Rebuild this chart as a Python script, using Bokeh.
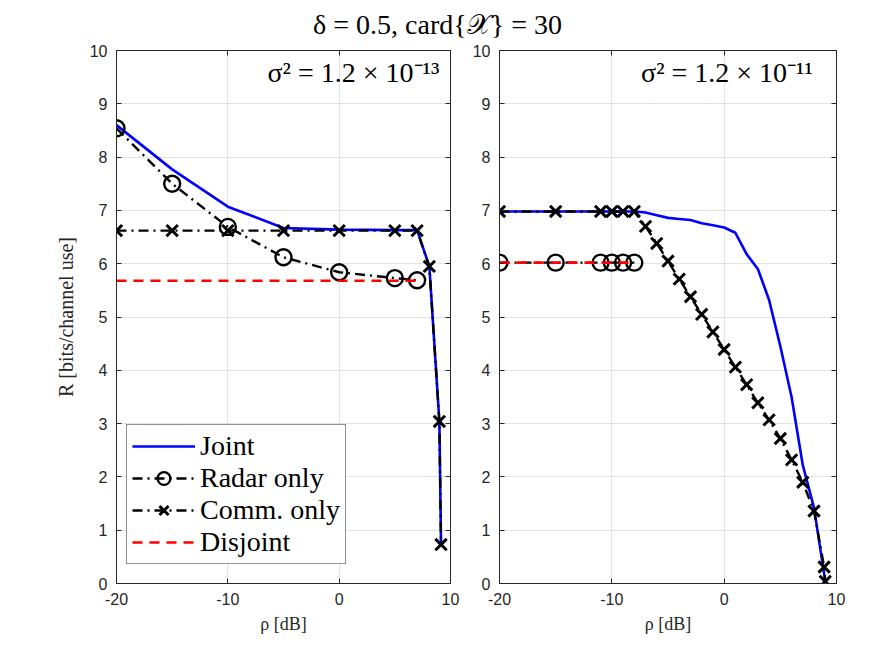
from bokeh.plotting import figure
from bokeh.models import Label, LinearAxis, Legend, LegendItem, FixedTicker, Range1d
from bokeh.layouts import column, row
from bokeh.embed import file_html
from bokeh.resources import INLINE

# ---------------- data ----------------
x_ticks = [-20, -10, 0, 10]
x_tick_labels = {-20: "-20", -10: "-10", 0: "0", 10: "10"}
y_ticks = [0, 1, 2, 3, 4, 5, 6, 7, 8, 9, 10]

# left panel: sigma^2 = 1.2e-13
rho_L_joint = [-20, -15, -10, -5, 0, 5, 7, 8.1, 9.0, 9.15]
R_L_joint = [8.60, 7.77, 7.07, 6.67, 6.64, 6.63, 6.63, 5.95, 3.04, 0.73]
rho_L_radar = [-20, -15, -10, -5, 0, 5, 7]
R_L_radar = [8.54, 7.50, 6.69, 6.12, 5.84, 5.73, 5.69]
rho_L_comm = [-20, -15, -10, -5, 0, 5, 7, 8.1, 9.0, 9.15]
R_L_comm = [6.62, 6.62, 6.62, 6.62, 6.62, 6.62, 6.62, 5.95, 3.04, 0.73]
rho_L_disj = [-20, 7]
R_L_disj = [5.68, 5.68]

# right panel: sigma^2 = 1.2e-11
rho_R_joint = [-20, -15, -11, -10, -9, -8, -7, -6, -5, -4, -3, -2, -1, 0, 1, 2, 3, 4, 5, 6, 7, 8, 9]
R_R_joint = [6.98, 6.98, 6.98, 6.98, 6.98, 6.98, 6.96, 6.91, 6.86, 6.84, 6.82, 6.76, 6.72, 6.68,
             6.58, 6.18, 5.90, 5.32, 4.45, 3.50, 2.22, 1.42, 0.04]
rho_R_radar = [-20, -15, -11, -10, -9, -8]
R_R_radar = [6.02, 6.02, 6.02, 6.02, 6.02, 6.02]
rho_R_comm = [-20, -15, -11, -10, -9, -8, -7, -6, -5, -4, -3, -2, -1, 0, 1, 2, 3, 4, 5, 6, 7, 8, 8.9, 9]
R_R_comm = [6.98, 6.98, 6.98, 6.98, 6.98, 6.98, 6.70, 6.38, 6.05, 5.71, 5.38, 5.05, 4.72, 4.39,
            4.06, 3.73, 3.39, 3.07, 2.72, 2.32, 1.90, 1.36, 0.31, 0.04]
rho_R_disj = [-20, -8]
R_R_disj = [6.02, 6.02]

title_text = "δ = 0.5, card{𝒳} = 30"
ann_L = "σ² = 1.2 × 10⁻¹³"
ann_R = "σ² = 1.2 × 10⁻¹¹"
labels = ["Joint", "Radar only", "Comm. only", "Disjoint"]

SERIF = "Liberation Serif"
SANS = "Liberation Sans"
AX = "#262626"
DASHDOT = "10 5 2 5"


def style_axis(ax, show_labels=True):
    ax.axis_line_color = AX
    ax.major_tick_line_color = AX
    ax.major_tick_in = 5
    ax.major_tick_out = 0
    ax.minor_tick_line_color = None
    ax.major_label_text_font = SANS
    if show_labels:
        ax.major_label_text_color = AX
        ax.major_label_text_font_size = "16px"
        ax.major_label_standoff = 9
    else:
        ax.major_label_text_color = None
        ax.major_label_text_font_size = "1px"
        ax.major_label_standoff = 0


def make_panel(fw, fh, bl, br, ylabel):
    p = figure(frame_width=fw, frame_height=fh, output_backend="svg", toolbar_location=None,
               x_range=Range1d(-20, 10), y_range=Range1d(0, 10),
               min_border_left=bl, min_border_right=br, min_border_top=6, min_border_bottom=62)
    p.outline_line_color = AX
    p.xaxis.ticker = FixedTicker(ticks=x_ticks)
    p.xaxis.major_label_overrides = x_tick_labels
    p.yaxis.ticker = FixedTicker(ticks=y_ticks)
    style_axis(p.xaxis[0])
    style_axis(p.yaxis[0])
    p.xaxis.axis_label = "ρ [dB]"
    p.xaxis.axis_label_text_font = SERIF
    p.xaxis.axis_label_text_font_style = "normal"
    p.xaxis.axis_label_text_font_size = "18px"
    p.xaxis.axis_label_standoff = 6
    p.xaxis.axis_label_text_color = AX
    if ylabel:
        p.yaxis.axis_label = ylabel
        p.yaxis.axis_label_text_font = SERIF
        p.yaxis.axis_label_text_font_style = "normal"
        p.yaxis.axis_label_text_font_size = "20px"
        p.yaxis.axis_label_standoff = 10
        p.yaxis.axis_label_text_color = AX
    ra = LinearAxis(ticker=FixedTicker(ticks=y_ticks))
    style_axis(ra, False)
    p.add_layout(ra, "right")
    ta = LinearAxis(ticker=FixedTicker(ticks=x_ticks))
    style_axis(ta, False)
    p.add_layout(ta, "above")
    p.xgrid.ticker = FixedTicker(ticks=x_ticks)
    p.ygrid.ticker = FixedTicker(ticks=y_ticks)
    p.grid.grid_line_color = "#e3e3e3"
    p.grid.grid_line_width = 1
    return p


def add_series(p, rj, Rj, rr, Rr, rc, Rc, rd, Rd):
    lj = p.line(rj, Rj, line_color="#0000ff", line_width=2.6)
    lr = p.line(rr, Rr, line_color="black", line_width=2.4, line_dash=DASHDOT)
    sr = p.scatter(rr, Rr, marker="circle", size=16, fill_color=None, line_color="black", line_width=2.4)
    lc = p.line(rc, Rc, line_color="black", line_width=2.4, line_dash=DASHDOT)
    sc = p.scatter(rc, Rc, marker="x", size=16, line_color="black", line_width=3)
    ld = p.line(rd, Rd, line_color="#ff0000", line_width=2.6, line_dash="10 7")
    return lj, (lr, sr), (lc, sc), ld


pL = make_panel(334, 533, 116, 12, "R [bits/channel use]")
pR = make_panel(337, 533, 37, 22, None)

lj, (lr, sr), (lc, sc), ld = add_series(pL, rho_L_joint, R_L_joint, rho_L_radar, R_L_radar,
                                        rho_L_comm, R_L_comm, rho_L_disj, R_L_disj)
add_series(pR, rho_R_joint, R_R_joint, rho_R_radar, R_R_radar,
           rho_R_comm, R_R_comm, rho_R_disj, R_R_disj)

legend = Legend(items=[
    LegendItem(label=labels[0], renderers=[lj]),
    LegendItem(label=labels[1], renderers=[lr, sr]),
    LegendItem(label=labels[2], renderers=[lc, sc]),
    LegendItem(label=labels[3], renderers=[ld]),
], location=(10, 19))
legend.label_text_font = SERIF
legend.label_text_font_size = "28px"
legend.label_text_color = "black"
legend.glyph_width = 63
legend.glyph_height = 32
legend.label_height = 32
legend.label_standoff = 5
legend.spacing = 0
legend.padding = 5
legend.margin = 0
legend.border_line_color = AX
legend.border_line_width = 1
legend.background_fill_alpha = 1
pL.add_layout(legend, "center")

for p, txt, xr in ((pL, ann_L, 9.0), (pR, ann_R, 7.9)):
    p.add_layout(Label(x=xr, y=9.58, text=txt, text_align="right", text_baseline="middle",
                       text_font=SERIF, text_font_size="28px", text_color="black"))

# title strip
pT = figure(width=866, height=44, output_backend="svg", toolbar_location=None,
            x_range=Range1d(0, 866), y_range=Range1d(0, 44),
            min_border=0, outline_line_color=None)
pT.axis.visible = False
pT.grid.visible = False
pT.add_layout(Label(x=437, y=20, text=title_text, text_align="center", text_baseline="middle",
                    text_font=SERIF, text_font_size="28px", text_color="black"))

layout = column(pT, row(pL, pR))
open("out.html", "w").write(file_html(layout, INLINE))
